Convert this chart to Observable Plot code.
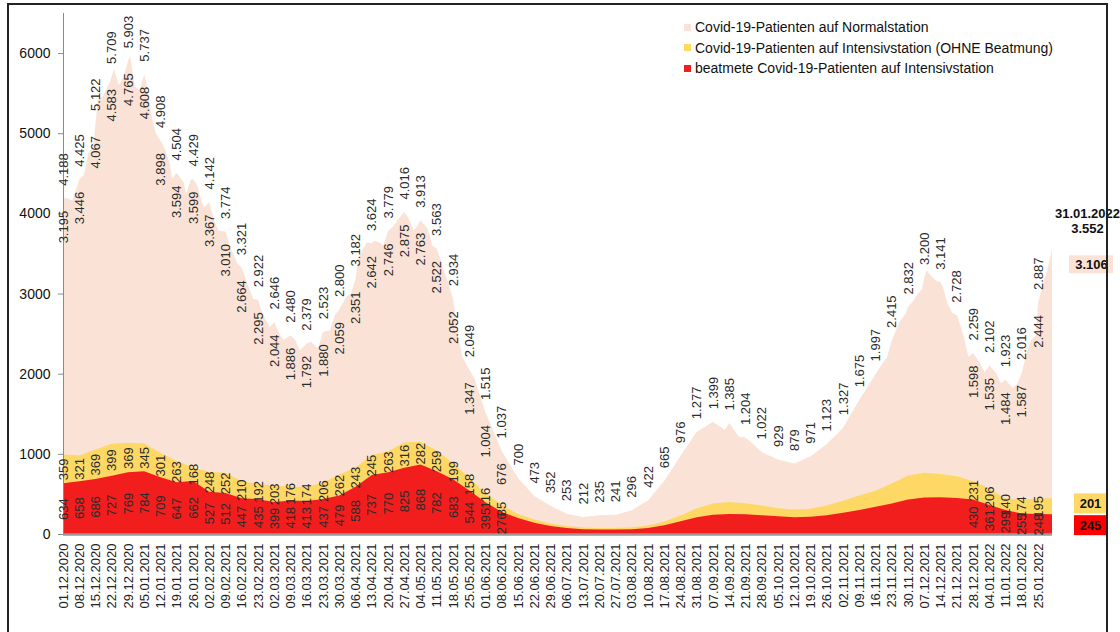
<!DOCTYPE html>
<html>
<head>
<meta charset="utf-8">
<script src="https://cdn.jsdelivr.net/npm/d3@7"></script>
<script src="https://cdn.jsdelivr.net/npm/@observablehq/plot@0.6"></script>
<style>
  html, body { margin: 0; padding: 0; background: #fff; }
  body { width: 1120px; height: 632px; overflow: hidden; font-family: "Liberation Sans", Arial, sans-serif; }
  #wrap { position: relative; width: 1120px; height: 632px; }
  #border { position: absolute; left: 7px; top: 3px; width: 1101px; height: 660px; border: 2px solid #222; box-sizing: border-box; pointer-events: none; }
  #legend { position: absolute; left: 684px; top: 17px; font-size: 14px; color: #111; line-height: 20.5px; }
  #legend .row { display: flex; align-items: center; white-space: nowrap; }
  #legend .sw { width: 7px; height: 7px; margin-right: 4px; }
</style>
</head>
<body>
<div id="wrap">
  <div id="chart"></div>
  <div id="legend"></div>
  <div id="border"></div>
</div>
<script>
// ---- data (weekly values) ----
const weeks = ["01.12.2020","08.12.2020","15.12.2020","22.12.2020","29.12.2020","05.01.2021","12.01.2021","19.01.2021","26.01.2021","02.02.2021","09.02.2021","16.02.2021","23.02.2021","02.03.2021","09.03.2021","16.03.2021","23.03.2021","30.03.2021","06.04.2021","13.04.2021","20.04.2021","27.04.2021","04.05.2021","11.05.2021","18.05.2021","25.05.2021","01.06.2021","08.06.2021","15.06.2021","22.06.2021","29.06.2021","06.07.2021","13.07.2021","20.07.2021","27.07.2021","03.08.2021","10.08.2021","17.08.2021","24.08.2021","31.08.2021","07.09.2021","14.09.2021","21.09.2021","28.09.2021","05.10.2021","12.10.2021","19.10.2021","26.10.2021","02.11.2021","09.11.2021","16.11.2021","23.11.2021","30.11.2021","07.12.2021","14.12.2021","21.12.2021","28.12.2021","04.01.2022","11.01.2022","18.01.2022","25.01.2022","31.01.2022"];

// total patients (all three groups)
const total = [4188,4425,5122,5709,5903,5737,4908,4504,4429,4142,3774,3321,2922,2646,2480,2379,2523,2800,3182,3624,3779,4016,3913,3563,2934,2049,1515,1037,700,473,352,253,212,235,241,296,422,665,976,1277,1399,1385,1204,1022,929,879,971,1123,1327,1675,1997,2415,2832,3200,3141,2728,2259,2102,1923,2016,2887,3552];

// ventilated ICU patients (red)
const ventilated = [634,658,686,727,769,784,709,647,662,527,512,447,435,399,418,413,437,479,588,737,770,825,868,782,683,544,395,276,200,140,100,75,60,55,55,60,75,110,160,210,240,250,245,235,220,210,215,235,265,300,340,380,430,455,460,450,430,361,299,255,248,245];

// ICU patients without ventilation (yellow)
const icuNoVent = [359,321,369,399,369,345,301,263,168,248,252,210,192,203,176,174,206,262,243,245,263,316,282,259,199,158,116,85,50,40,30,25,20,20,20,25,30,45,70,110,140,150,140,120,100,95,100,120,150,180,200,250,300,310,290,270,231,206,140,174,195,201];

// additional in-between readings of the total (top edge of the area)
const extraDates = ["03.12.2020","05.12.2020","10.12.2020","12.12.2020","14.12.2020","16.12.2020","18.12.2020","20.12.2020","23.12.2020","25.12.2020","27.12.2020","28.12.2020","30.12.2020","31.12.2020","01.01.2021","03.01.2021","06.01.2021","07.01.2021","09.01.2021","10.01.2021","14.01.2021","16.01.2021","17.01.2021","22.01.2021","23.01.2021","25.01.2021","28.01.2021","30.01.2021","31.01.2021","04.02.2021","06.02.2021","11.02.2021","13.02.2021","14.02.2021","19.02.2021","21.02.2021","24.02.2021","26.02.2021","28.02.2021","04.03.2021","06.03.2021","11.03.2021","13.03.2021","18.03.2021","20.03.2021","21.03.2021","26.03.2021","28.03.2021","02.04.2021","04.04.2021","07.04.2021","09.04.2021","11.04.2021","14.04.2021","16.04.2021","18.04.2021","22.04.2021","25.04.2021","29.04.2021","01.05.2021","02.05.2021","07.05.2021","09.05.2021","14.05.2021","16.05.2021","20.05.2021","22.05.2021","27.05.2021","12.09.2021","18.09.2021","18.11.2021","21.11.2021","26.11.2021","29.11.2021","02.12.2021","04.12.2021","06.12.2021","08.12.2021","10.12.2021","12.12.2021","15.12.2021","17.12.2021","19.12.2021","22.12.2021","24.12.2021","26.12.2021","31.12.2021","02.01.2022","07.01.2022","09.01.2022","14.01.2022","16.01.2022","20.01.2022","22.01.2022","24.01.2022","27.01.2022","29.01.2022"];
const extraTotals = [4190,4160,4480,4760,4820,5420,5460,5560,5800,5600,5700,5800,5960,5750,5580,5540,5620,5410,5100,5000,4800,4620,4440,4390,4240,4420,4340,4120,4080,3920,3780,3580,3450,3380,3080,2930,2830,2690,2580,2510,2420,2420,2290,2400,2330,2330,2540,2730,2960,3000,3400,3550,3640,3660,3640,3600,3830,3950,3930,3790,3820,3810,3600,3290,3130,2500,2210,1960,1300,1215,2087,2211,2630,2755,2900,2990,3060,3290,3220,3160,3084,2876,2760,2650,2461,2211,2129,2020,2005,1880,1820,1870,2250,2420,2470,3100,3300];

// weeks whose detail values are printed in the chart
const detailRanges = [["01.12.2020","08.06.2021"],["28.12.2021","25.01.2022"]];

const yTicks = [0,1000,2000,3000,4000,5000,6000];

const seriesNames = ["Covid-19-Patienten auf Normalstation","Covid-19-Patienten auf Intensivstation (OHNE Beatmung)","beatmete Covid-19-Patienten auf Intensivstation"];
const colors = ["#FAE3D6","#FED865","#F21E1E"];
const boxColors = ["#FAE3D6","#FFD966","#FF0000"];

// ---- build ----
const parse = d3.utcParse("%d.%m.%Y");
const de = d3.formatLocale({decimal: ",", thousands: ".", grouping: [3], currency: ["", " €"]});
const fmt = de.format(",d");

const rows = weeks.map((w, i) => ({
  label: w,
  date: parse(w),
  total: total[i],
  vent: ventilated[i],
  icu: icuNoVent[i],
  icuTop: ventilated[i] + icuNoVent[i],
  normal: total[i] - ventilated[i] - icuNoVent[i]
}));
const topLine = rows.map(r => ({date: r.date, total: r.total}))
  .concat(extraDates.map((d, i) => ({date: parse(d), total: extraTotals[i]})))
  .sort((a, b) => a.date - b.date);

const ranges = detailRanges.map(([a, b]) => [parse(a), parse(b)]);
const isDetail = r => ranges.some(([a, b]) => r.date >= a && r.date <= b);
const first = rows[0];
const last = rows[rows.length - 1];
const body = rows.slice(0, -1);
const detail = body.filter(isDetail);
const tickDates = body.map(r => r.date);

const textColor = "#2b2b2b";

const chart = Plot.plot({
  width: 1120,
  height: 632,
  marginLeft: 63,
  marginRight: 68,
  marginTop: 13,
  marginBottom: 98,
  style: {fontFamily: "'Liberation Sans', Arial, sans-serif", background: "transparent", overflow: "visible"},
  x: {type: "utc", domain: [first.date, last.date]},
  y: {domain: [0, 6500]},
  marks: [
    Plot.areaY(topLine, {x: "date", y: "total", fill: colors[0]}),
    Plot.areaY(rows, {x: "date", y: "icuTop", fill: colors[1]}),
    Plot.areaY(rows, {x: "date", y: "vent", fill: colors[2]}),
    Plot.ruleY([0], {stroke: "#9a9a9a", strokeWidth: 2.5}),
    Plot.ruleX([first.date], {y1: 0, y2: 6500, stroke: "#8a8a8a", strokeWidth: 1}),
    Plot.axisY({ticks: yTicks, tickFormat: d3.format("d"), tickSize: 5, tickPadding: 8, fontSize: 14, stroke: "#8a8a8a", color: "#111", label: null}),
    Plot.axisX({ticks: tickDates, tickFormat: d3.utcFormat("%d.%m.%Y"), tickRotate: -90, tickSize: 0, tickPadding: 9, fontSize: 13, color: "#222", label: null}),
    // total labels above the area
    Plot.text(body, {x: "date", y: "total", text: d => fmt(d.total), rotate: -90, textAnchor: "start", dy: -13, fontSize: 13, fill: textColor}),
    // normal-ward labels below the top
    Plot.text(detail, {x: "date", y: "total", text: d => fmt(d.normal), rotate: -90, textAnchor: "end", dy: 12, fontSize: 13, fill: textColor}),
    // ICU without ventilation
    Plot.text(detail, {x: "date", y: d => d.vent + d.icu / 2, text: d => fmt(d.icu), rotate: -90, fontSize: 13, fill: textColor}),
    // ventilated
    Plot.text(detail, {x: "date", y: d => d.vent / 2, text: d => fmt(d.vent), rotate: -90, fontSize: 13, fill: textColor}),
    // last-day summary on the right
    Plot.text([last], {x: "date", y: "total", text: d => d.label, dx: 35, dy: -36, fontSize: 13, fontWeight: "bold", fill: "#111"}),
    Plot.text([last], {x: "date", y: "total", text: d => fmt(d.total), dx: 35, dy: -21, fontSize: 13, fontWeight: "bold", fill: "#111"}),
    Plot.rect([last], {x1: "date", x2: "date", y1: "total", y2: "total", dx: 39, dy: 15, insetLeft: -22, insetRight: -22, insetTop: -9, insetBottom: -9, fill: boxColors[0]}),
    Plot.text([last], {x: "date", y: "total", text: d => fmt(d.normal), dx: 39, dy: 15, fontSize: 13, fontWeight: "bold", fill: "#111"}),
    Plot.rect([last], {x1: "date", x2: "date", y1: d => d.vent + d.icu / 2, y2: d => d.vent + d.icu / 2, dx: 38, dy: -3, insetLeft: -16, insetRight: -16, insetTop: -10, insetBottom: -10, fill: boxColors[1]}),
    Plot.text([last], {x: "date", y: d => d.vent + d.icu / 2, text: d => fmt(d.icu), dx: 38, dy: -3, fontSize: 13, fontWeight: "bold", fill: "#111"}),
    Plot.rect([last], {x1: "date", x2: "date", y1: d => d.vent / 2, y2: d => d.vent / 2, dx: 38, dy: 1, insetLeft: -16, insetRight: -16, insetTop: -10, insetBottom: -10, fill: boxColors[2]}),
    Plot.text([last], {x: "date", y: d => d.vent / 2, text: d => fmt(d.vent), dx: 38, dy: 1, fontSize: 13, fontWeight: "bold", fill: "#111"})
  ]
});
document.getElementById("chart").appendChild(chart);

const legend = document.getElementById("legend");
seriesNames.forEach((name, i) => {
  const row = document.createElement("div");
  row.className = "row";
  const sw = document.createElement("span");
  sw.className = "sw";
  sw.style.background = colors[i];
  const tx = document.createElement("span");
  tx.textContent = name;
  row.appendChild(sw); row.appendChild(tx);
  legend.appendChild(row);
});
</script>
</body>
</html>
